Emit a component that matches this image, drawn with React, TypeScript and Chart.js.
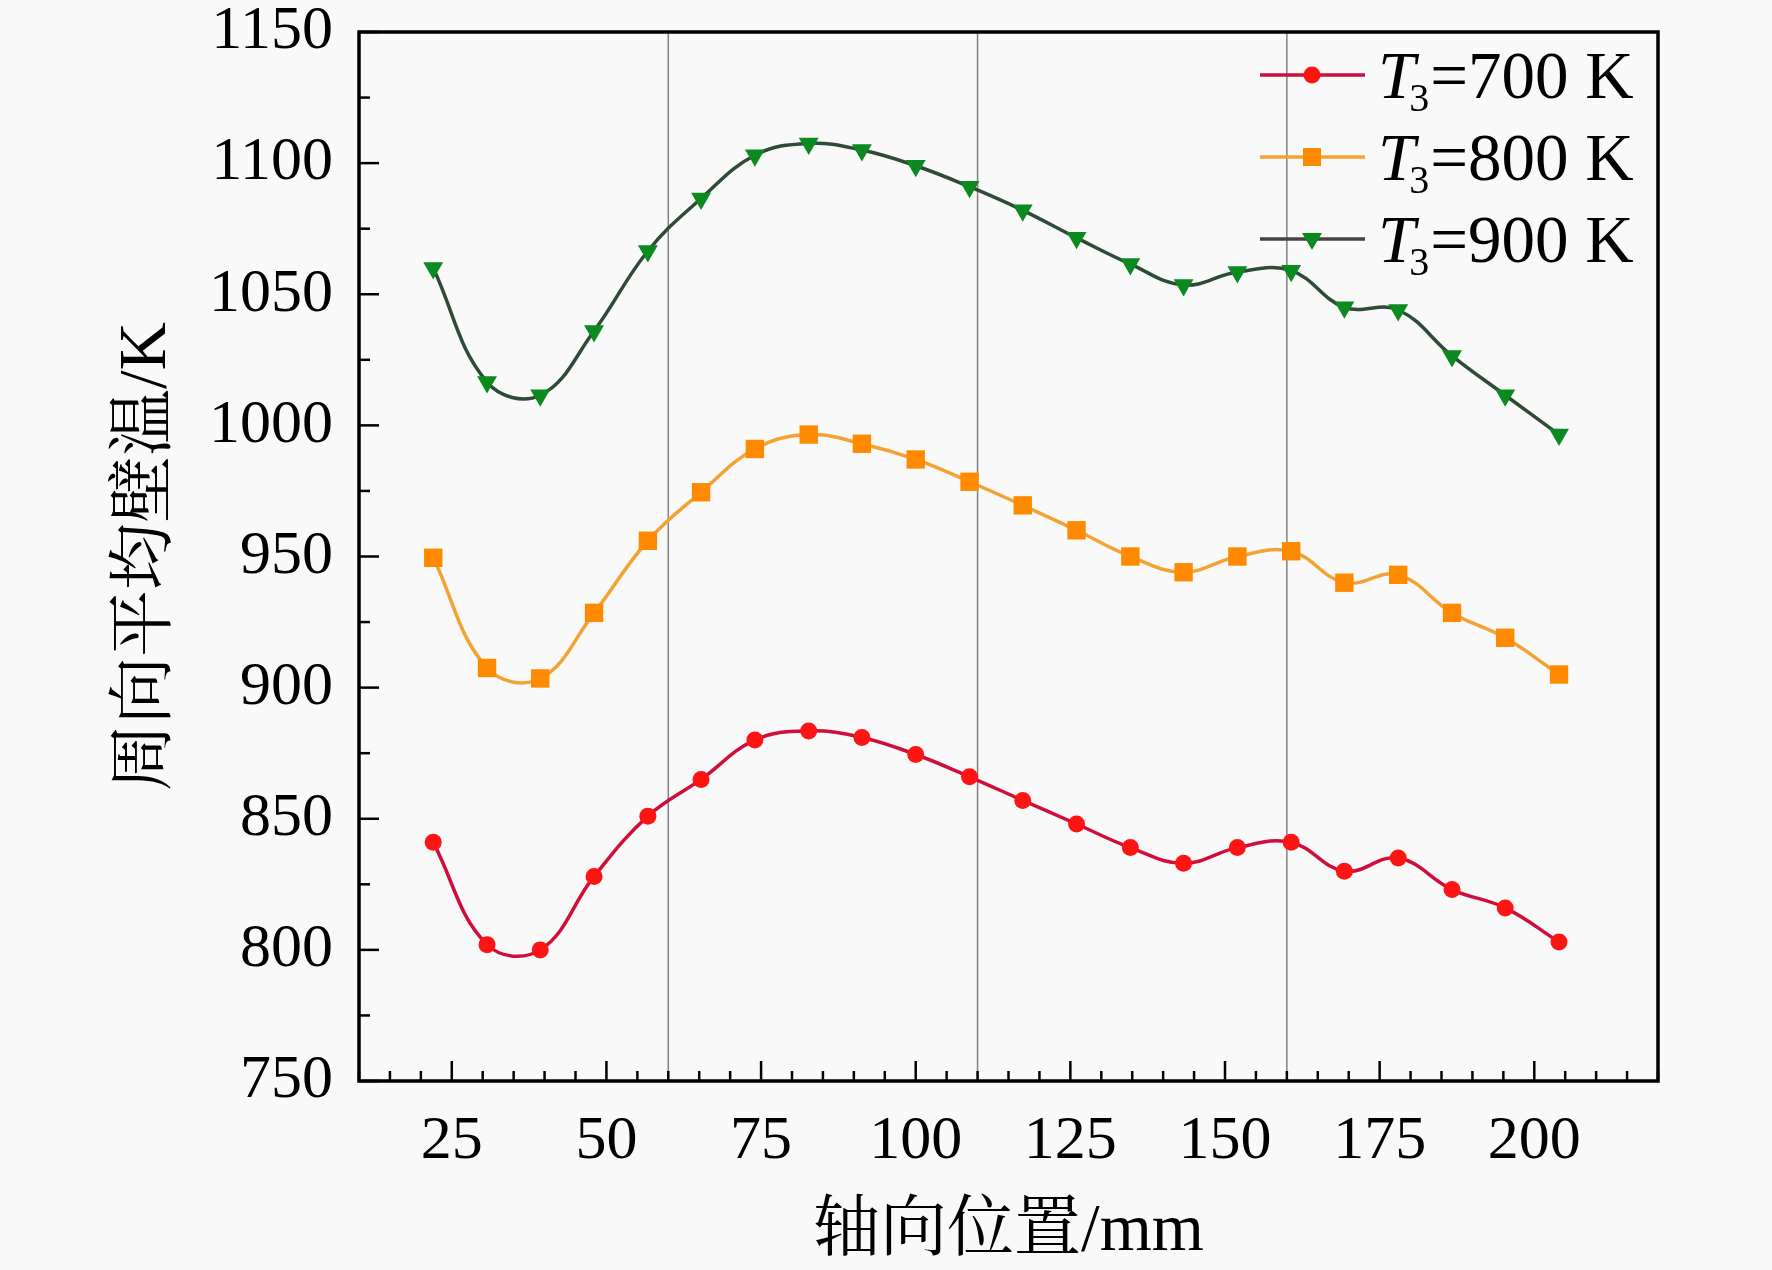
import { useRef, useEffect } from "react"
import { Chart, registerables } from "chart.js"

Chart.register(...registerables)

// axial positions (mm)
const positions = [22, 30.7, 39.3, 48, 56.7, 65.3, 74, 82.7, 91.3, 100, 108.7, 117.3, 126, 134.7, 143.3, 152, 160.7, 169.3, 178, 186.7, 195.3, 204]
// circumferential mean wall temperature (K)
const t700 = [841, 802, 800, 828, 851, 865, 880, 883.5, 881, 874.5, 866, 857, 848, 839, 833, 839, 841, 830, 835, 823, 816, 803]
const t800 = [949.5, 907.5, 903.5, 928.5, 956, 974.5, 991, 996.5, 993, 987, 978.5, 969.5, 960, 950, 944, 950, 952, 940, 943, 928.5, 919, 905]
const t900 = [1060, 1016.5, 1011.5, 1036, 1066.5, 1086.5, 1103, 1107.5, 1105, 1099, 1091, 1082, 1071.5, 1061.5, 1053.5, 1058.5, 1059, 1045, 1044, 1026.5, 1011.5, 996.5]
const seriesNames = ["700 K", "800 K", "900 K"]
const refLines = [60, 110, 160]

const serif = '"Liberation Serif", "Times New Roman", "Noto Serif CJK SC", "Noto Sans CJK SC", serif'

const lineColors = ["#cf0f3a", "#f3a233", "#2f4a36"]
const markColors = ["#ff1414", "#ff8a00", "#0b8a1f"]
const markStyles = ["circle", "rect", "triangle"]

function drawMark(ctx: CanvasRenderingContext2D, style: string, x: number, y: number) {
  ctx.beginPath()
  if (style === "circle") {
    ctx.arc(x, y, 8.5, 0, Math.PI * 2)
  } else if (style === "rect") {
    ctx.rect(x - 9, y - 9, 18, 18)
  } else {
    ctx.moveTo(x - 10, y - 6)
    ctx.lineTo(x + 10, y - 6)
    ctx.lineTo(x, y + 11)
    ctx.closePath()
  }
  ctx.fill()
}

const framePlugin = {
  id: "frame",
  beforeDatasetsDraw(chart: any) {
    const { ctx, chartArea, scales } = chart
    ctx.save()
    ctx.strokeStyle = "#808080"
    ctx.lineWidth = 1.5
    refLines.forEach((v) => {
      const px = scales.x.getPixelForValue(v)
      ctx.beginPath()
      ctx.moveTo(px, chartArea.top)
      ctx.lineTo(px, chartArea.bottom)
      ctx.stroke()
    })
    ctx.restore()
  },
  afterDraw(chart: any) {
    const { ctx, chartArea, scales } = chart
    const { left, right, top, bottom } = chartArea
    ctx.save()
    ctx.strokeStyle = "#000"
    ctx.lineWidth = 2.5
    scales.x.ticks.forEach((t: any) => {
      const px = scales.x.getPixelForValue(t.value)
      const len = t.value % 25 === 0 ? 20 : 10
      ctx.beginPath()
      ctx.moveTo(px, bottom)
      ctx.lineTo(px, bottom - len)
      ctx.stroke()
    })
    scales.y.ticks.forEach((t: any) => {
      const py = scales.y.getPixelForValue(t.value)
      const len = t.value % 50 === 0 ? 20 : 11
      ctx.beginPath()
      ctx.moveTo(left, py)
      ctx.lineTo(left + len, py)
      ctx.stroke()
    })
    ctx.lineWidth = 3.5
    ctx.strokeRect(left, top, right - left, bottom - top)

    // legend
    seriesNames.forEach((name, i) => {
      const ly = 75 + i * 82
      ctx.strokeStyle = i === 2 ? "#444" : lineColors[i]
      ctx.lineWidth = 3.5
      ctx.beginPath()
      ctx.moveTo(1260, ly)
      ctx.lineTo(1365, ly)
      ctx.stroke()
      ctx.fillStyle = markColors[i]
      drawMark(ctx, markStyles[i], 1312, ly)

      ctx.fillStyle = "#000"
      ctx.textBaseline = "alphabetic"
      ctx.textAlign = "left"
      const base = ly + 23
      let x = 1378
      ctx.font = `italic 67px ${serif}`
      ctx.fillText("T", x, base)
      x += ctx.measureText("T").width - 6
      ctx.font = `40px ${serif}`
      ctx.fillText("3", x, base + 13)
      x += ctx.measureText("3").width + 1
      ctx.font = `67px ${serif}`
      ctx.fillText("=" + name, x, base)
    })
    ctx.restore()
  },
}

export default function App() {
  const chartRef = useRef<HTMLCanvasElement>(null)

  useEffect(() => {
    if (!chartRef.current) return
    const ctx = chartRef.current.getContext("2d")
    if (!ctx) return

    const allSeries = [t700, t800, t900]
    const datasets = allSeries.map((vals, i) => ({
      label: "T3=" + seriesNames[i],
      data: vals.map((v, j) => ({ x: positions[j], y: v })),
      borderColor: lineColors[i],
      backgroundColor: markColors[i],
      pointBackgroundColor: markColors[i],
      pointBorderColor: markColors[i],
      pointBorderWidth: 0,
      pointStyle: markStyles[i],
      pointRadius: i === 0 ? 8.5 : i === 1 ? 13 : 11.5,
      pointRotation: i === 2 ? 180 : 0,
      borderWidth: 3.5,
      tension: 0.4,
      fill: false,
    }))

    const myChart = new Chart(ctx, {
      type: "line",
      data: { datasets },
      plugins: [framePlugin],
      options: {
        responsive: true,
        maintainAspectRatio: false,
        animation: false,
        layout: { padding: { left: 0, right: 114, top: 32, bottom: 0 } },
        plugins: {
          legend: { display: false },
          tooltip: { enabled: false },
        },
        scales: {
          x: {
            type: "linear",
            min: 10,
            max: 220,
            afterFit: (s: any) => {
              s.height = 189
              s.paddingLeft = 0
              s.paddingRight = 0
            },
            grid: { display: false, drawTicks: false },
            border: { display: false },
            ticks: {
              stepSize: 5,
              autoSkip: false,
              maxRotation: 0,
              padding: 30,
              color: "#000",
              font: { family: serif, size: 62, lineHeight: 1 },
              callback: (v: any) => (Number(v) % 25 === 0 ? String(v) : ""),
            },
            title: {
              display: true,
              text: "轴向位置/mm",
              color: "#000",
              font: { family: serif, size: 67, lineHeight: 1 },
              padding: { top: 0, bottom: 4 },
            },
          },
          y: {
            type: "linear",
            min: 750,
            max: 1150,
            afterFit: (s: any) => {
              s.width = 359
              s.paddingTop = 0
              s.paddingBottom = 0
            },
            grid: { display: false, drawTicks: false },
            border: { display: false },
            ticks: {
              stepSize: 25,
              autoSkip: false,
              padding: 26,
              color: "#000",
              font: { family: serif, size: 62, lineHeight: 1 },
              callback: (v: any) => (Number(v) % 50 === 0 ? String(v) : ""),
            },
            title: {
              display: true,
              text: "周向平均壁温/K",
              color: "#000",
              font: { family: serif, size: 67, lineHeight: 1.2 },
              padding: { top: 107, bottom: 0 },
            },
          },
        },
      },
    })

    return () => {
      myChart.destroy()
    }
  }, [])

  return (
    <div style={{ position: "absolute", left: 0, top: 0, width: 1772, height: 1270, background: "#f9f9f9" }}>
      <canvas ref={chartRef} />
    </div>
  )
}
